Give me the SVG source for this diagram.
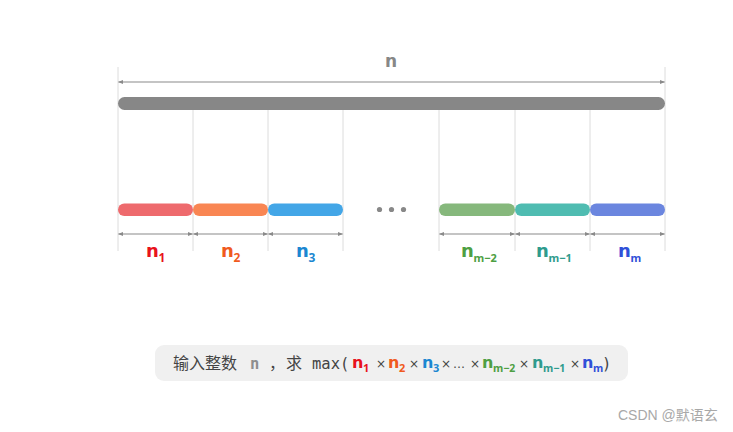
<svg xmlns="http://www.w3.org/2000/svg" width="733" height="432" viewBox="0 0 733 432">
<style>
.guide{stroke:#dcdcdc;stroke-width:1}
.dim{stroke:#8a8a8a;stroke-width:1.2;fill:none;marker-start:url(#a);marker-end:url(#a)}
.lbl{font-family:"DejaVu Sans",sans-serif;font-weight:bold}
.sb{font-family:"Noto Sans",sans-serif;font-weight:bold}
.mono{font-family:"DejaVu Sans Mono","Noto Sans CJK SC",monospace;font-size:15.5px}
.cjk{font-family:"Noto Sans CJK SC",sans-serif;font-size:16px;fill:#444}
.x{font-family:"DejaVu Sans",sans-serif;fill:#444}
</style>
<defs>
<marker id="a" viewBox="0 0 10 10" refX="9" refY="5" markerWidth="5" markerHeight="5" orient="auto-start-reverse" markerUnits="userSpaceOnUse"><path d="M0,1 L10,5 L0,9 Z" fill="#8a8a8a"/></marker>
</defs>
<rect width="733" height="432" fill="#fff"/>
<g id="guides">
<line class="guide" x1="118" y1="67" x2="118" y2="251"/>
<line class="guide" x1="665" y1="67" x2="665" y2="251"/>
<line class="guide" x1="193" y1="110" x2="193" y2="251"/>
<line class="guide" x1="268" y1="110" x2="268" y2="251"/>
<line class="guide" x1="343" y1="110" x2="343" y2="251"/>
<line class="guide" x1="439" y1="110" x2="439" y2="251"/>
<line class="guide" x1="515" y1="110" x2="515" y2="251"/>
<line class="guide" x1="590" y1="110" x2="590" y2="251"/>
</g>
<g id="connectors">
<line class="dim" x1="118.5" y1="82" x2="664.5" y2="82"/>
<line class="dim" x1="118.5" y1="234" x2="192.5" y2="234"/>
<line class="dim" x1="193.5" y1="234" x2="267.5" y2="234"/>
<line class="dim" x1="268.5" y1="234" x2="342.5" y2="234"/>
<line class="dim" x1="439.5" y1="234" x2="514.5" y2="234"/>
<line class="dim" x1="515.5" y1="234" x2="589.5" y2="234"/>
<line class="dim" x1="590.5" y1="234" x2="664.5" y2="234"/>
</g>
<g id="total">
<rect x="118" y="97" width="547" height="13" rx="6.5" fill="#878787"/>
<text class="lbl" x="391" y="67" font-size="17" fill="#878787" text-anchor="middle">n</text>
</g>
<g id="n1"><rect x="118" y="203.5" width="75" height="12.5" rx="6.25" fill="#ee6a6d"/><text class="lbl" x="146" y="257" font-size="18" fill="#e8131b">n</text><text class="sb" x="158.5" y="262" font-size="12" fill="#e8131b">1</text></g>
<g id="n2"><rect x="193" y="203.5" width="75" height="12.5" rx="6.25" fill="#f98653"/><text class="lbl" x="221" y="257" font-size="18" fill="#f05a1e">n</text><text class="sb" x="233.5" y="262" font-size="12" fill="#f05a1e">2</text></g>
<g id="n3"><rect x="268" y="203.5" width="75" height="12.5" rx="6.25" fill="#43a6e7"/><text class="lbl" x="296" y="257" font-size="18" fill="#1c87d1">n</text><text class="sb" x="308.5" y="262" font-size="12" fill="#1c87d1">3</text></g>
<g id="dots"><circle cx="379.5" cy="209.5" r="2.6" fill="#888"/><circle cx="391.5" cy="209.5" r="2.6" fill="#888"/><circle cx="403.5" cy="209.5" r="2.6" fill="#888"/></g>
<g id="nm2"><rect x="439" y="203.5" width="76" height="12.5" rx="6.25" fill="#86b87c"/><text class="lbl" x="461" y="257" font-size="18" fill="#4e9f43">n</text><text class="sb" x="473.5" y="262" font-size="11" fill="#4e9f43">m−2</text></g>
<g id="nm1"><rect x="515" y="203.5" width="75" height="12.5" rx="6.25" fill="#4fbcb1"/><text class="lbl" x="536" y="257" font-size="18" fill="#2f9b8d">n</text><text class="sb" x="548.5" y="262" font-size="11" fill="#2f9b8d">m−1</text></g>
<g id="nm"><rect x="590" y="203.5" width="75" height="12.5" rx="6.25" fill="#6b86df"/><text class="lbl" x="618" y="257" font-size="18" fill="#3050d8">n</text><text class="sb" x="630.5" y="262" font-size="11" fill="#3050d8">m</text></g>
<g id="formula">
<rect x="155" y="345" width="473" height="36" rx="9" fill="#f0f0f0"/>
<text class="cjk" x="173" y="369">输入整数</text>
<text class="mono" x="250" y="369" style="font-weight:bold;fill:#8e8e8e">n</text>
<text class="cjk" x="269" y="369">，</text>
<text class="cjk" x="286" y="369">求</text>
<text class="mono" x="312" y="369" style="fill:#444">max(</text>
<text class="lbl" x="352" y="368" font-size="16" fill="#e8131b">n</text><text class="sb" x="363" y="372" font-size="11" fill="#e8131b">1</text>
<text class="x" x="376" y="368" font-size="12">×</text>
<text class="lbl" x="388" y="368" font-size="16" fill="#f05a1e">n</text><text class="sb" x="399" y="372" font-size="11" fill="#f05a1e">2</text>
<text class="x" x="409" y="368" font-size="12">×</text>
<text class="lbl" x="422" y="368" font-size="16" fill="#1c87d1">n</text><text class="sb" x="433" y="372" font-size="11" fill="#1c87d1">3</text>
<text class="x" x="441" y="368" font-size="12">×</text>
<text class="x" x="453" y="368" font-size="12">…</text>
<text class="x" x="470" y="368" font-size="12">×</text>
<text class="lbl" x="482" y="368" font-size="16" fill="#4e9f43">n</text><text class="sb" x="493" y="372" font-size="10.5" fill="#4e9f43">m−2</text>
<text class="x" x="519" y="368" font-size="12">×</text>
<text class="lbl" x="532" y="368" font-size="16" fill="#2f9b8d">n</text><text class="sb" x="543" y="372" font-size="10.5" fill="#2f9b8d">m−1</text>
<text class="x" x="570" y="368" font-size="12">×</text>
<text class="lbl" x="582" y="368" font-size="16" fill="#3050d8">n</text><text class="sb" x="593" y="372" font-size="10.5" fill="#3050d8">m</text>
<text class="mono" x="602" y="369" style="fill:#444">)</text>
</g>
<text x="618" y="420" font-family="Liberation Sans,Noto Sans CJK SC,sans-serif" font-size="14" fill="#a8a8a8">CSDN @默语玄</text>
</svg>
